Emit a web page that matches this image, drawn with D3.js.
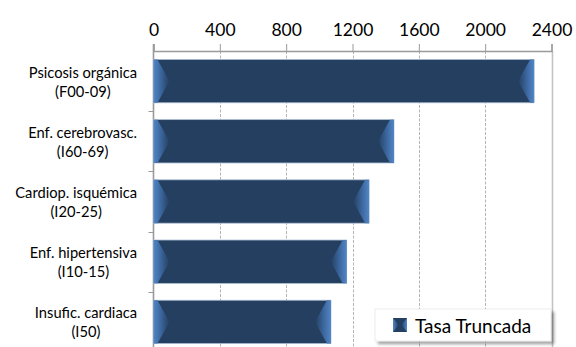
<!DOCTYPE html>
<html>
<head>
<meta charset="utf-8">
<script src="https://cdn.jsdelivr.net/npm/d3@7"></script>
<style>
  html, body { margin: 0; padding: 0; background: #fff; }
  svg { display: block; }
  text { font-family: Lato, "Open Sans", sans-serif; fill: #000; }
</style>
</head>
<body>
<svg id="chart" width="576" height="347"></svg>
<script>
// Diagnosis groups (two-line labels) and their truncated rates
const categories = [
  ["Psicosis orgánica", "(F00-09)"],
  ["Enf. cerebrovasc.", "(I60-69)"],
  ["Cardiop. isquémica", "(I20-25)"],
  ["Enf. hipertensiva", "(I10-15)"],
  ["Insufic. cardiaca", "(I50)"]
];
const tasaTruncada = [2295, 1450, 1300, 1165, 1070];
const xTicks = [0, 400, 800, 1200, 1600, 2000, 2400];
const seriesName = "Tasa Truncada";

const svg = d3.select("#chart");
const defs = svg.append("defs");

const plot = { left: 153.5, right: 551.5, top: 51, bottom: 352 };

const x = d3.scaleLinear().domain([0, 2400]).range([plot.left, plot.right]);
const y = d3.scaleBand()
  .domain(categories.map((d, i) => i))
  .range([plot.top, plot.bottom])
  .paddingInner(0.28)
  .paddingOuter(0.14);

const DARK = "#243f60";
const LIGHT = "#5286c6";

// Gradients for the bevelled bar ends
function endGradient(id, x1, x2) {
  const g = defs.append("linearGradient").attr("id", id)
    .attr("x1", x1).attr("x2", x2).attr("y1", 0).attr("y2", 0);
  g.append("stop").attr("offset", "0%").attr("stop-color", LIGHT);
  g.append("stop").attr("offset", "45%").attr("stop-color", "#3c679e");
  g.append("stop").attr("offset", "100%").attr("stop-color", DARK);
}
endGradient("bevelL", 0, 1);
endGradient("bevelR", 1, 0);

// Legend drop shadow
const shadow = defs.append("filter").attr("id", "shadow")
  .attr("x", "-10%").attr("y", "-20%").attr("width", "130%").attr("height", "160%");
shadow.append("feDropShadow").attr("dx", 3).attr("dy", 3)
  .attr("stdDeviation", 1.6).attr("flood-color", "#000").attr("flood-opacity", 0.35);

// Vertical gridlines
const grid = svg.append("g");
grid.selectAll("line").data(xTicks.filter(t => t > 0)).join("line")
  .attr("x1", d => Math.round(x(d)) + 0.5).attr("x2", d => Math.round(x(d)) + 0.5)
  .attr("y1", plot.top).attr("y2", 347)
  .attr("stroke", d => d === 2400 ? "#c4c4c4" : "#b4b4b4")
  .attr("stroke-width", d => d === 2400 ? 1.6 : 1)
  .attr("stroke-dasharray", d => d === 2400 ? null : "3,1.5");

// Top value axis
const xAxis = svg.append("g").attr("transform", `translate(0,${plot.top})`)
  .call(d3.axisTop(x).tickValues(xTicks).tickSize(7).tickPadding(8).tickFormat(d3.format("d")));
xAxis.select(".domain").attr("stroke", "#9a9a9a").attr("stroke-width", 1.4);
xAxis.selectAll(".tick line").attr("stroke", "#9a9a9a");
xAxis.selectAll(".tick text").attr("font-size", 17.5).attr("font-family", "Lato").attr("fill", "#000");

// Left category axis line and boundary ticks
svg.append("line")
  .attr("x1", plot.left).attr("x2", plot.left)
  .attr("y1", plot.top - 7).attr("y2", 347)
  .attr("stroke", "#9a9a9a").attr("stroke-width", 1.6);
svg.append("g").selectAll("line").data(categories.slice(1).map((d, i) => i + 1)).join("line")
  .attr("x1", plot.left - 5).attr("x2", plot.left)
  .attr("y1", i => Math.round(y(i) - y.step() * y.paddingInner() / 2) + 0.5)
  .attr("y2", i => Math.round(y(i) - y.step() * y.paddingInner() / 2) + 0.5)
  .attr("stroke", "#9a9a9a");

// Bars with bevelled ends
const bars = svg.append("g").selectAll("g").data(tasaTruncada).join("g");
bars.append("rect")
  .attr("x", x(0)).attr("y", (d, i) => y(i))
  .attr("width", d => x(d) - x(0)).attr("height", y.bandwidth())
  .attr("fill", DARK)
  .attr("stroke", "#a9bbd2").attr("stroke-width", 0.8);
const bevel = 16, edge = 4;
bars.append("path")
  .attr("d", (d, i) => {
    const x0 = x(0), y0 = y(i), h = y.bandwidth();
    return `M${x0},${y0}L${x0 + edge},${y0}L${x0 + bevel},${y0 + h / 2}L${x0 + edge},${y0 + h}L${x0},${y0 + h}Z`;
  })
  .attr("fill", "url(#bevelL)");
bars.append("path")
  .attr("d", (d, i) => {
    const x1 = x(d), y0 = y(i), h = y.bandwidth();
    return `M${x1},${y0}L${x1 - edge},${y0}L${x1 - bevel},${y0 + h / 2}L${x1 - edge},${y0 + h}L${x1},${y0 + h}Z`;
  })
  .attr("fill", "url(#bevelR)");

// Category labels: each block right-aligned to the axis, lines centred within it
const labelRight = 137;
const lineGap = 19;
const labels = svg.append("g").selectAll("g").data(categories).join("g");
labels.each(function (lines, i) {
  const g = d3.select(this);
  const cy = y(i) + y.bandwidth() / 2;
  const texts = lines.map((t, k) => g.append("text")
    .attr("font-size", 14.7)
    .attr("text-anchor", "middle")
    .attr("y", cy + (k - (lines.length - 1) / 2) * lineGap + 6)
    .text(t));
  const w = d3.max(texts, t => t.node().getComputedTextLength());
  texts.forEach(t => t.attr("x", labelRight - w / 2));
});

// Legend
const legend = svg.append("g").attr("transform", "translate(375,309)");
legend.append("rect").attr("width", 176).attr("height", 32)
  .attr("fill", "#fff").attr("stroke", "#e0e0e0").attr("stroke-width", 0.6)
  .attr("filter", "url(#shadow)");
const sw = 14, sx = 18, sy = 9;
legend.append("rect").attr("x", sx).attr("y", sy).attr("width", sw).attr("height", sw).attr("fill", DARK);
legend.append("path")
  .attr("d", `M${sx},${sy}L${sx + sw * 0.4},${sy + sw / 2}L${sx},${sy + sw}Z`).attr("fill", "url(#bevelL)");
legend.append("path")
  .attr("d", `M${sx + sw},${sy}L${sx + sw * 0.6},${sy + sw / 2}L${sx + sw},${sy + sw}Z`).attr("fill", "url(#bevelR)");
legend.append("text").attr("x", 40).attr("y", 23.5).attr("font-size", 19).text(seriesName);
</script>
</body>
</html>
